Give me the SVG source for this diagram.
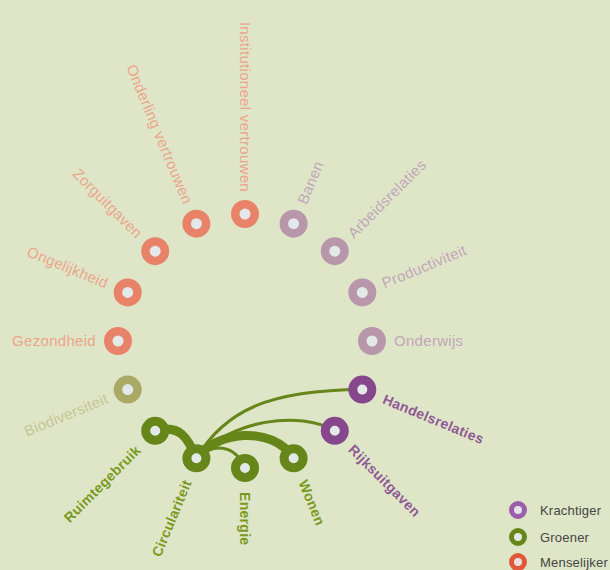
<svg xmlns="http://www.w3.org/2000/svg" width="610" height="570" viewBox="0 0 610 570">
<style>
text{font-family:"Liberation Sans",Arial,sans-serif;font-size:15px;letter-spacing:0.3px}
.hole{fill:#e3e9e8}
.ring{stroke-width:8.5}
.ringS{stroke-width:9}
.mRing{stroke:#e8836a}
.mTxt{fill:#eba58a}
.kRing{stroke:#b997ab}
.kTxt{fill:#c2a6b8}
.bRing{stroke:#aaa966}
.bTxt{fill:#c6c592}
.gRing{stroke:#66861a}
.gTxt{fill:#7a9a1e;font-weight:bold;font-size:14px}
.pRing{stroke:#86478c}
.pTxt{fill:#8f5a94;font-weight:bold;font-size:14px}
.conn{fill:none;stroke:#66861a;stroke-linecap:round}
.leg{font-family:"Liberation Sans",Arial,sans-serif;font-size:13px;fill:#444;letter-spacing:0.2px}
</style>
<rect width="610" height="570" fill="#dfe6c8"/>

<g id="connectors">
<path class="conn" stroke-width="9" d="M155.2,430.8 C180,424 188,438 196.4,458.3"/>
<path class="conn" stroke-width="9" d="M196.4,458.3 C215,432 272,424 293.6,458.3"/>
<path class="conn" stroke-width="3" d="M196.4,458.3 C215,442 235,445 245,468"/>
<path class="conn" stroke-width="3" d="M196.4,458.3 C225,410 270,390 362.3,389.6"/>
<path class="conn" stroke-width="3" d="M196.4,458.3 C230,420 300,410 334.8,430.8"/>
</g>

<g id="institutioneel-vertrouwen" transform="translate(245,214)">
<circle class="hole ring mRing" r="9.75"/>
<text class="mTxt" transform="rotate(90)" x="-22" y="5" text-anchor="end">Institutioneel vertrouwen</text>
</g>
<g id="onderling-vertrouwen" transform="translate(196.4,223.7)">
<circle class="hole ring mRing" r="9.75"/>
<text class="mTxt" transform="rotate(67.5)" x="-22" y="5" text-anchor="end">Onderling vertrouwen</text>
</g>
<g id="zorguitgaven" transform="translate(155.2,251.2)">
<circle class="hole ring mRing" r="9.75"/>
<text class="mTxt" transform="rotate(45)" x="-22" y="5" text-anchor="end">Zorguitgaven</text>
</g>
<g id="ongelijkheid" transform="translate(127.7,292.4)">
<circle class="hole ring mRing" r="9.75"/>
<text class="mTxt" transform="rotate(22.5)" x="-22" y="5" text-anchor="end">Ongelijkheid</text>
</g>
<g id="gezondheid" transform="translate(118,341)">
<circle class="hole ring mRing" r="9.75"/>
<text class="mTxt" x="-22" y="5" text-anchor="end">Gezondheid</text>
</g>
<g id="biodiversiteit" transform="translate(127.7,389.6)">
<circle class="hole ring bRing" r="9.75"/>
<text class="bTxt" transform="rotate(-22.5)" x="-22" y="5" text-anchor="end">Biodiversiteit</text>
</g>
<g id="ruimtegebruik" transform="translate(155.2,430.8)">
<circle class="hole ringS gRing" r="9.5"/>
<text class="gTxt" transform="rotate(-45)" x="-24" y="5" text-anchor="end">Ruimtegebruik</text>
</g>
<g id="circulariteit" transform="translate(196.4,458.3)">
<circle class="hole ringS gRing" r="9.5"/>
<text class="gTxt" transform="rotate(-67.5)" x="-24" y="5" text-anchor="end">Circulariteit</text>
</g>
<g id="energie" transform="translate(245,468)">
<circle class="hole ringS gRing" r="9.5"/>
<text class="gTxt" transform="rotate(90)" x="24" y="5">Energie</text>
</g>
<g id="wonen" transform="translate(293.6,458.3)">
<circle class="hole ringS gRing" r="9.5"/>
<text class="gTxt" transform="rotate(67.5)" x="24" y="5">Wonen</text>
</g>
<g id="rijksuitgaven" transform="translate(334.8,430.8)">
<circle class="hole ringS pRing" r="9.5"/>
<text class="pTxt" transform="rotate(45)" x="23" y="5">Rijksuitgaven</text>
</g>
<g id="handelsrelaties" transform="translate(362.3,389.6)">
<circle class="hole ringS pRing" r="9.5"/>
<text class="pTxt" transform="rotate(22.5)" x="23" y="5">Handelsrelaties</text>
</g>
<g id="onderwijs" transform="translate(372,341)">
<circle class="hole ring kRing" r="9.75"/>
<text class="kTxt" x="22" y="5">Onderwijs</text>
</g>
<g id="productiviteit" transform="translate(362.3,292.4)">
<circle class="hole ring kRing" r="9.75"/>
<text class="kTxt" transform="rotate(-22.5)" x="22" y="5">Productiviteit</text>
</g>
<g id="arbeidsrelaties" transform="translate(334.8,251.2)">
<circle class="hole ring kRing" r="9.75"/>
<text class="kTxt" transform="rotate(-45)" x="22" y="5">Arbeidsrelaties</text>
</g>
<g id="banen" transform="translate(293.6,223.7)">
<circle class="hole ring kRing" r="9.75"/>
<text class="kTxt" transform="rotate(-67.5)" x="22" y="5">Banen</text>
</g>

<g id="legend">
<g id="legend-krachtiger">
<circle cx="518" cy="510" r="6.5" fill="#e3e2ee" stroke="#9a5eaa" stroke-width="5"/>
<text class="leg" x="540" y="515">Krachtiger</text>
</g>
<g id="legend-groener">
<circle cx="518" cy="537" r="6.5" fill="#e3e9e8" stroke="#66861a" stroke-width="5"/>
<text class="leg" x="540" y="542">Groener</text>
</g>
<g id="legend-menselijker">
<circle cx="518" cy="562" r="6.5" fill="#e8e0dc" stroke="#e0573c" stroke-width="5"/>
<text class="leg" x="540" y="567">Menselijker</text>
</g>
</g>
</svg>
